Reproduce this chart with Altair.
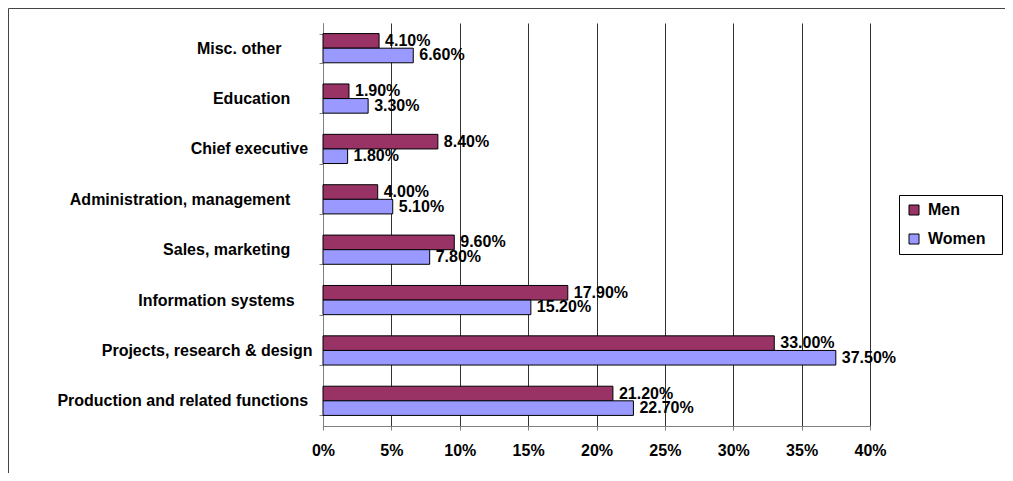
import altair as alt
import pandas as pd

categories = [
    "Misc. other",
    "Education",
    "Chief executive",
    "Administration, management",
    "Sales, marketing",
    "Information systems",
    "Projects, research & design",
    "Production and related functions",
]
men = [4.1, 1.9, 8.4, 4.0, 9.6, 17.9, 33.0, 21.2]
women = [6.6, 3.3, 1.8, 5.1, 7.8, 15.2, 37.5, 22.7]
groups = ["Men", "Women"]
group_colors = ["#993366", "#9999FF"]
x_ticks = [0, 5, 10, 15, 20, 25, 30, 35, 40]

rows = []
for c, m, w in zip(categories, men, women):
    rows.append({"category": c, "group": "Men", "value": m / 100})
    rows.append({"category": c, "group": "Women", "value": w / 100})
df = pd.DataFrame(rows)

# trailing non-breaking spaces to mimic the original label placement
label_pad = {
    "Misc. other": 7,
    "Education": 5,
    "Chief executive": 1,
    "Administration, management": 5,
    "Sales, marketing": 5,
    "Information systems": 4,
    "Projects, research & design": 0,
    "Production and related functions": 1,
}
NB = "\u00a0"
ZW = "\u200b"
y_expr = "datum.label"
for k, n in label_pad.items():
    if n:
        y_expr = f"datum.value == '{k}' ? datum.label + '{NB * n}{ZW}' : ({y_expr})"

FS = 16
GRAY = "#808080"

y = alt.Y(
    "category:N",
    sort=categories,
    scale=alt.Scale(paddingInner=0.42, paddingOuter=0.21),
    axis=alt.Axis(
        title=None,
        labelExpr=y_expr,
        labelFontWeight="bold",
        labelFontSize=FS,
        labelColor="black",
        labelLimit=400,
        labelPadding=7,
        tickSize=4,
        tickColor=GRAY,
        domainColor=GRAY,
        tickBand="extent",
        grid=False,
    ),
)
x = alt.X(
    "value:Q",
    scale=alt.Scale(domain=[0, 0.4], nice=False),
    axis=alt.Axis(
        title=None,
        values=[t / 100 for t in x_ticks],
        format=".0%",
        labelFontWeight="bold",
        labelFontSize=FS,
        labelColor="black",
        labelPadding=12,
        labelFlush=False,
        labelOverlap=False,
        tickSize=4,
        tickColor=GRAY,
        domainColor=GRAY,
        grid=True,
        gridColor="#333333",
        gridWidth=1,
    ),
)

base = alt.Chart(df)

bars = base.mark_bar(stroke="black", strokeWidth=1).encode(
    x=x,
    y=y,
    yOffset=alt.YOffset("group:N", sort=groups),
    color=alt.Color(
        "group:N",
        scale=alt.Scale(domain=groups, range=group_colors),
        legend=alt.Legend(
            title=None,
            orient="none",
            legendX=576,
            legendY=172,
            strokeColor="black",
            padding=7,
            symbolType="square",
            symbolSize=100,
            symbolStrokeColor="black",
            symbolStrokeWidth=1,
            labelFontSize=FS,
            labelFontWeight="bold",
            labelColor="black",
            labelOffset=6,
            rowPadding=13,
            labelExpr="datum.label + '" + NB * 2 + ZW + "'",
        ),
    ),
)

labels = base.mark_text(
    align="left", baseline="middle", dx=6, fontSize=FS, fontWeight="bold", color="black"
).encode(
    x=alt.X("value:Q"),
    y=alt.Y("category:N", sort=categories),
    yOffset=alt.YOffset("group:N", sort=groups),
    text=alt.Text("value:Q", format=".2%"),
)

frame = alt.Chart(pd.DataFrame({"f": [0]})).mark_rect(
    fillOpacity=0, stroke="#444444", strokeWidth=1
).encode(
    x=alt.value(-314.5), x2=alt.value(2000), y=alt.value(-14.5), y2=alt.value(2000)
)

chart = (
    alt.layer(frame, bars, labels)
    .properties(
        width=547,
        height=403,
        padding={"left": 315, "top": 15, "right": 135, "bottom": 47},
        autosize=alt.AutoSizeParams(type="none"),
    )
    .configure(font="Liberation Sans", background="white")
    .configure_view(strokeWidth=0)
)

chart.save("out.html", embed_options={"renderer": "svg", "actions": False})
